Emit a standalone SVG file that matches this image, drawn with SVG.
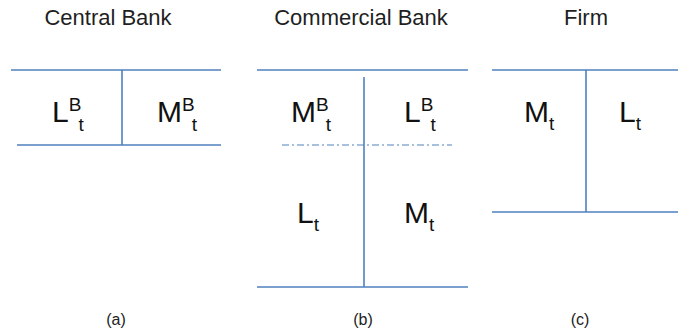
<svg xmlns="http://www.w3.org/2000/svg" width="678" height="336" viewBox="0 0 678 336">
<style>
.ln{stroke:#4f81bd;stroke-width:1.6;fill:none}
.dd{stroke:#4f81bd;stroke-width:1.2;fill:none;stroke-dasharray:7 3 2 3}
.tt{font-family:"Liberation Sans",Arial,sans-serif;font-size:22px;fill:#1f1f1f;text-anchor:middle}
.big{font-family:"Liberation Sans",Arial,sans-serif;font-size:30px;fill:#111}
.sm{font-size:19px}
.cap{font-family:"Liberation Sans",Arial,sans-serif;font-size:16px;fill:#222;text-anchor:middle}
</style>
<rect width="678" height="336" fill="#fff"/>
<g id="central">
<text class="tt" x="108" y="25">Central Bank</text>
<line class="ln" x1="11" y1="70" x2="221" y2="70"/>
<line class="ln" x1="17" y1="145" x2="221" y2="145"/>
<line class="ln" x1="122" y1="70" x2="122" y2="145"/>
<text class="big" x="52" y="122">L<tspan class="sm" dy="-11">B</tspan><tspan class="sm" dx="-3" dy="20">t</tspan></text>
<text class="big" x="157" y="122">M<tspan class="sm" dy="-11">B</tspan><tspan class="sm" dx="-3" dy="20">t</tspan></text>
<text class="cap" x="116" y="325">(a)</text>
</g>
<g id="commercial">
<text class="tt" x="361" y="25">Commercial Bank</text>
<line class="ln" x1="257" y1="70" x2="468" y2="70"/>
<line class="ln" x1="257" y1="287" x2="468" y2="287"/>
<line class="ln" x1="364" y1="77" x2="364" y2="287"/>
<line class="dd" x1="282" y1="145" x2="452" y2="145"/>
<text class="big" x="291" y="122">M<tspan class="sm" dy="-11">B</tspan><tspan class="sm" dx="-3" dy="20">t</tspan></text>
<text class="big" x="404" y="122">L<tspan class="sm" dy="-11">B</tspan><tspan class="sm" dx="-3" dy="20">t</tspan></text>
<text class="big" x="297" y="223">L<tspan class="sm" dy="8">t</tspan></text>
<text class="big" x="404" y="223">M<tspan class="sm" dy="8">t</tspan></text>
<text class="cap" x="363" y="325">(b)</text>
</g>
<g id="firm">
<text class="tt" x="586" y="25">Firm</text>
<line class="ln" x1="492" y1="70" x2="678" y2="70"/>
<line class="ln" x1="492" y1="212" x2="678" y2="212"/>
<line class="ln" x1="586" y1="70" x2="586" y2="212"/>
<text class="big" x="524" y="122">M<tspan class="sm" dy="8">t</tspan></text>
<text class="big" x="619" y="122">L<tspan class="sm" dy="8">t</tspan></text>
<text class="cap" x="580" y="325">(c)</text>
</g>
<g id="connectors"></g>
</svg>
